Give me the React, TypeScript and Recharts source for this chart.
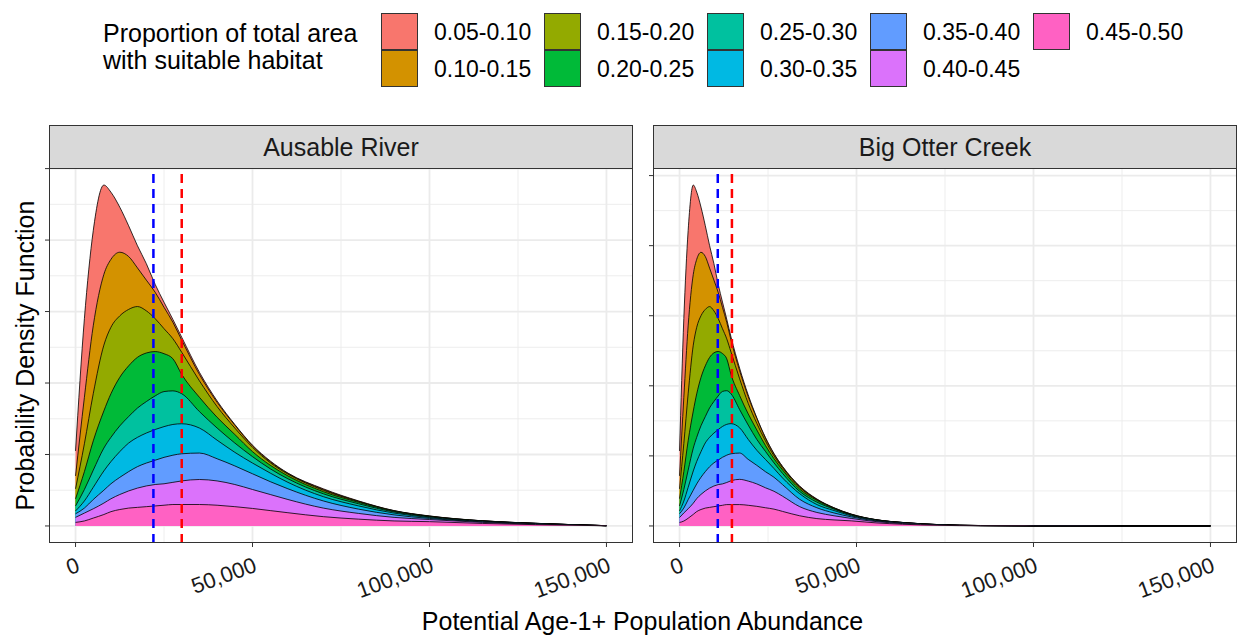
import React from 'react';
import { AreaChart, Area, XAxis, YAxis, CartesianGrid, ReferenceLine } from 'recharts';

const FONT = '"Liberation Sans", Arial, Helvetica, sans-serif';

const groupLabels = ['0.05-0.10', '0.10-0.15', '0.15-0.20', '0.20-0.25', '0.25-0.30', '0.30-0.35', '0.35-0.40', '0.40-0.45', '0.45-0.50'];
const groupColors = ['#F8766D', '#D39200', '#93AA00', '#00BA38', '#00C19F', '#00B9E3', '#619CFF', '#DB72FB', '#FF61C3'];
const legendTitle = ['Proportion of total area', 'with suitable habitat'];

const xTicks = [0, 50000, 100000, 150000];
const xMinorGrid = [25000, 75000, 125000];

// ---------- Ausable River (upper edge of each stacked band, density x 1e-5) ----------
const ausableAbundance = [0, 2500, 5000, 8000, 10000, 12500, 15000, 17500, 20000, 22500, 25000, 27500, 30000, 35000, 40000, 45000, 50000, 55000, 60000, 70000, 80000, 90000, 100000, 115000, 130000, 150000];
const ausable0510 = [1.05, 2.90, 4.13, 4.77, 4.67, 4.46, 4.20, 3.92, 3.67, 3.38, 3.13, 2.89, 2.64, 2.15, 1.75, 1.42, 1.13, 0.91, 0.74, 0.52, 0.35, 0.215, 0.14, 0.072, 0.037, 0.004];
const ausable1015 = [0.70, 1.80, 2.80, 3.52, 3.73, 3.83, 3.77, 3.61, 3.44, 3.27, 3.06, 2.85, 2.60, 2.12, 1.73, 1.41, 1.12, 0.90, 0.735, 0.51, 0.345, 0.213, 0.138, 0.0715, 0.0368, 0.004];
const ausable1520 = [0.52, 1.15, 1.85, 2.53, 2.78, 2.94, 3.03, 3.07, 3.01, 2.90, 2.76, 2.62, 2.43, 2.03, 1.67, 1.37, 1.10, 0.885, 0.725, 0.50, 0.34, 0.21, 0.136, 0.071, 0.0365, 0.004];
const ausable2025 = [0.38, 0.76, 1.19, 1.61, 1.85, 2.08, 2.24, 2.36, 2.42, 2.44, 2.41, 2.34, 2.12, 1.80, 1.52, 1.28, 1.04, 0.85, 0.70, 0.48, 0.33, 0.205, 0.133, 0.07, 0.036, 0.004];
const ausable2530 = [0.28, 0.51, 0.78, 1.09, 1.24, 1.40, 1.53, 1.65, 1.74, 1.82, 1.88, 1.89, 1.85, 1.60, 1.37, 1.16, 0.97, 0.80, 0.66, 0.45, 0.31, 0.196, 0.127, 0.068, 0.035, 0.004];
const ausable3035 = [0.21, 0.35, 0.54, 0.77, 0.90, 1.04, 1.16, 1.24, 1.30, 1.35, 1.39, 1.42, 1.43, 1.37, 1.20, 1.03, 0.88, 0.74, 0.61, 0.41, 0.28, 0.18, 0.118, 0.064, 0.033, 0.0038];
const ausable3540 = [0.17, 0.25, 0.37, 0.50, 0.59, 0.68, 0.76, 0.83, 0.88, 0.92, 0.96, 0.99, 1.01, 1.02, 0.94, 0.84, 0.73, 0.62, 0.52, 0.35, 0.235, 0.155, 0.105, 0.058, 0.03, 0.0035];
const ausable4045 = [0.12, 0.18, 0.24, 0.32, 0.38, 0.44, 0.49, 0.53, 0.56, 0.58, 0.59, 0.61, 0.63, 0.65, 0.63, 0.58, 0.51, 0.44, 0.37, 0.25, 0.175, 0.12, 0.09, 0.05, 0.025, 0.003];
const ausable4550 = [0.05, 0.07, 0.11, 0.16, 0.20, 0.23, 0.25, 0.26, 0.27, 0.28, 0.29, 0.30, 0.30, 0.30, 0.29, 0.27, 0.245, 0.215, 0.185, 0.13, 0.095, 0.07, 0.06, 0.035, 0.018, 0.002];
const ausableBlueLine = 22000;
const ausableRedLine = 30000;
const ausableYMajor = [0, 1, 2, 3, 4, 5];
const ausableYMinor = [0.5, 1.5, 2.5, 3.5, 4.5];

// ---------- Big Otter Creek ----------
const otterAbundance = [0, 1210, 2430, 3880, 4850, 6060, 7280, 8490, 9700, 10910, 12130, 13340, 14550, 16980, 19400, 21830, 24250, 26680, 29100, 33950, 38800, 43650, 48500, 55780, 63050, 73000, 85000, 100000, 125000, 150000];
const otter0510 = [2.14, 5.92, 8.43, 9.73, 9.53, 9.10, 8.57, 8.00, 7.49, 6.90, 6.39, 5.90, 5.39, 4.50, 3.74, 3.09, 2.53, 2.07, 1.70, 1.14, 0.77, 0.52, 0.34, 0.175, 0.10, 0.04, 0.013, 0.004, 0.001, 0.0005];
const otter1015 = [1.43, 3.67, 5.71, 7.18, 7.61, 7.81, 7.69, 7.36, 7.02, 6.67, 6.24, 5.81, 5.30, 4.43, 3.69, 3.07, 2.51, 2.05, 1.69, 1.12, 0.76, 0.515, 0.336, 0.174, 0.099, 0.039, 0.012, 0.004, 0.001, 0.0005];
const otter1520 = [1.06, 2.35, 3.77, 5.16, 5.67, 6.00, 6.18, 6.26, 6.14, 5.92, 5.63, 5.34, 4.96, 4.20, 3.50, 2.93, 2.43, 2.00, 1.66, 1.10, 0.75, 0.51, 0.33, 0.173, 0.099, 0.039, 0.012, 0.004, 0.001, 0.0005];
const otter2025 = [0.78, 1.55, 2.43, 3.28, 3.77, 4.24, 4.57, 4.81, 4.94, 4.98, 4.92, 4.77, 4.32, 3.72, 3.20, 2.74, 2.30, 1.92, 1.60, 1.05, 0.73, 0.50, 0.32, 0.171, 0.097, 0.037, 0.012, 0.004, 0.001, 0.0005];
const otter2530 = [0.57, 1.04, 1.59, 2.22, 2.53, 2.86, 3.12, 3.37, 3.55, 3.71, 3.84, 3.86, 3.77, 3.32, 2.88, 2.47, 2.13, 1.80, 1.50, 0.985, 0.68, 0.48, 0.31, 0.166, 0.095, 0.036, 0.011, 0.0035, 0.001, 0.0005];
const otter3035 = [0.43, 0.71, 1.10, 1.57, 1.84, 2.12, 2.37, 2.53, 2.65, 2.75, 2.84, 2.90, 2.92, 2.80, 2.47, 2.16, 1.90, 1.64, 1.37, 0.92, 0.61, 0.44, 0.29, 0.155, 0.088, 0.033, 0.010, 0.003, 0.001, 0.0004];
const otter3540 = [0.35, 0.51, 0.75, 1.02, 1.20, 1.39, 1.55, 1.69, 1.80, 1.88, 1.96, 2.02, 2.06, 2.08, 1.90, 1.73, 1.55, 1.39, 1.18, 0.76, 0.52, 0.37, 0.26, 0.142, 0.081, 0.031, 0.009, 0.003, 0.001, 0.0004];
const otter4045 = [0.24, 0.37, 0.49, 0.65, 0.78, 0.90, 1.00, 1.08, 1.14, 1.18, 1.20, 1.24, 1.29, 1.33, 1.28, 1.20, 1.09, 0.99, 0.85, 0.55, 0.385, 0.29, 0.215, 0.122, 0.068, 0.027, 0.008, 0.0025, 0.0008, 0.0003];
const otter4550 = [0.10, 0.14, 0.22, 0.33, 0.41, 0.47, 0.51, 0.53, 0.55, 0.57, 0.59, 0.61, 0.61, 0.61, 0.59, 0.56, 0.52, 0.48, 0.415, 0.29, 0.21, 0.172, 0.145, 0.086, 0.049, 0.019, 0.005, 0.002, 0.0006, 0.0002];
const otterBlueLine = 10800;
const otterRedLine = 14800;
const otterYMajor = [0, 2, 4, 6, 8, 10];
const otterYMinor = [1, 3, 5, 7, 9];

function buildRows(xs: number[], bands: number[][]) {
  return xs.map((x, i) => {
    const row: Record<string, number> = { x };
    bands.forEach((b, k) => { row['g' + k] = b[i]; });
    return row;
  });
}

const ausableRows = buildRows(ausableAbundance, [ausable0510, ausable1015, ausable1520, ausable2025, ausable2530, ausable3035, ausable3540, ausable4045, ausable4550]);
const otterRows = buildRows(otterAbundance, [otter0510, otter1015, otter1520, otter2025, otter2530, otter3035, otter3540, otter4045, otter4550]);

const XTick = (props: any) => {
  const { x, y, payload } = props;
  const ay = y + 7;
  return (
    <text x={x} y={ay} transform={`rotate(-20, ${x}, ${ay})`} textAnchor="end" dominantBaseline="hanging"
      fontSize={22} fontFamily={FONT} fill="#1a1a1a">
      {Number(payload.value).toLocaleString('en-US')}
    </text>
  );
};

const EmptyTick = () => <g />;

const PLOT_W = 584;
const PLOT_H = 375;
const AXIS_W = 49;
const PLOT_TOP = 168;
const STRIP_H = 43;

function Panel(props: { left: number; title: string; rows: any[]; yMax: number; yMajor: number[]; yMinor: number[]; blueX: number; redX: number }) {
  const { left, title, rows, yMax, yMajor, yMinor, blueX, redX } = props;
  return (
    <>
      <div style={{ position: 'absolute', left: left - AXIS_W, top: PLOT_TOP - 8 }}>
        <AreaChart width={AXIS_W + PLOT_W} height={8 + PLOT_H + 70} data={rows} margin={{ top: 8, right: 0, bottom: 0, left: 0 }}>
          <CartesianGrid verticalValues={xMinorGrid} horizontalValues={yMinor} stroke="#EBEBEB" strokeWidth={0.9} />
          <CartesianGrid verticalValues={xTicks} horizontalValues={yMajor} stroke="#EBEBEB" strokeWidth={1.8} />
          <XAxis type="number" dataKey="x" domain={[-7500, 157500]} ticks={xTicks} interval={0} allowDataOverflow
            height={70} axisLine={false} tickSize={4} tickLine={{ stroke: '#333333', strokeWidth: 1 }} tick={<XTick />} />
          <YAxis type="number" domain={[-0.05 * yMax, 1.05 * yMax]} ticks={yMajor} interval={0} allowDataOverflow
            width={AXIS_W} axisLine={false} tickSize={4} tickLine={{ stroke: '#333333', strokeWidth: 1 }} tick={<EmptyTick />} />
          {groupLabels.map((g, k) => (
            <Area key={g} dataKey={'g' + k} type="monotone" baseValue={0} fill={groupColors[k]} fillOpacity={1}
              stroke="#000000" strokeWidth={0.8} dot={false} activeDot={false} isAnimationActive={false} />
          ))}
          <ReferenceLine x={blueX} stroke="#0000FF" strokeWidth={2.5} strokeDasharray="9 6" />
          <ReferenceLine x={redX} stroke="#FF0000" strokeWidth={2.5} strokeDasharray="9 6" />
        </AreaChart>
      </div>
      <div style={{ position: 'absolute', left, top: PLOT_TOP, width: PLOT_W, height: PLOT_H, border: '1px solid #333333', boxSizing: 'border-box', pointerEvents: 'none' }} />
      <div style={{ position: 'absolute', left, top: PLOT_TOP - STRIP_H, width: PLOT_W, height: STRIP_H + 1, background: '#D9D9D9', border: '1px solid #333333', boxSizing: 'border-box', display: 'flex', alignItems: 'center', justifyContent: 'center', fontFamily: FONT, fontSize: 25, color: '#1a1a1a' }}>
        {title}
      </div>
    </>
  );
}

function Legend() {
  const boxX = [381, 544, 707, 870, 1033];
  const rowY = [13, 50];
  return (
    <svg width={1238} height={100} style={{ position: 'absolute', left: 0, top: 0 }}>
      <text x={103} y={33} dominantBaseline="central" fontFamily={FONT} fontSize={25} fill="#000">{legendTitle[0]}</text>
      <text x={103} y={60} dominantBaseline="central" fontFamily={FONT} fontSize={25} fill="#000">{legendTitle[1]}</text>
      {groupLabels.map((g, k) => {
        const col = Math.floor(k / 2);
        const row = k % 2;
        const x = boxX[col];
        const y = rowY[row];
        return (
          <g key={g}>
            <rect x={x + 0.5} y={y + 0.5} width={36} height={36} fill={groupColors[k]} stroke="#333333" strokeWidth={1} />
            <text x={x + 53} y={y + 18.5} dominantBaseline="central" fontFamily={FONT} fontSize={23} fill="#000">{g}</text>
          </g>
        );
      })}
    </svg>
  );
}

export default function App() {
  return (
    <div style={{ position: 'absolute', left: 0, top: 0, width: 1238, height: 637, background: '#FFFFFF', overflow: 'hidden', fontFamily: FONT }}>
      <Legend />
      <Panel left={49} title="Ausable River" rows={ausableRows} yMax={4.77} yMajor={ausableYMajor} yMinor={ausableYMinor} blueX={ausableBlueLine} redX={ausableRedLine} />
      <Panel left={653} title="Big Otter Creek" rows={otterRows} yMax={9.73} yMajor={otterYMajor} yMinor={otterYMinor} blueX={otterBlueLine} redX={otterRedLine} />
      <svg width={1238} height={637} style={{ position: 'absolute', left: 0, top: 0, pointerEvents: 'none' }}>
        <text x={25} y={355.5} transform="rotate(-90, 25, 355.5)" textAnchor="middle" dominantBaseline="central" fontFamily={FONT} fontSize={25} fill="#000">Probability Density Function</text>
        <text x={642.5} y={621} textAnchor="middle" dominantBaseline="central" fontFamily={FONT} fontSize={25} fill="#000">Potential Age-1+ Population Abundance</text>
      </svg>
    </div>
  );
}
